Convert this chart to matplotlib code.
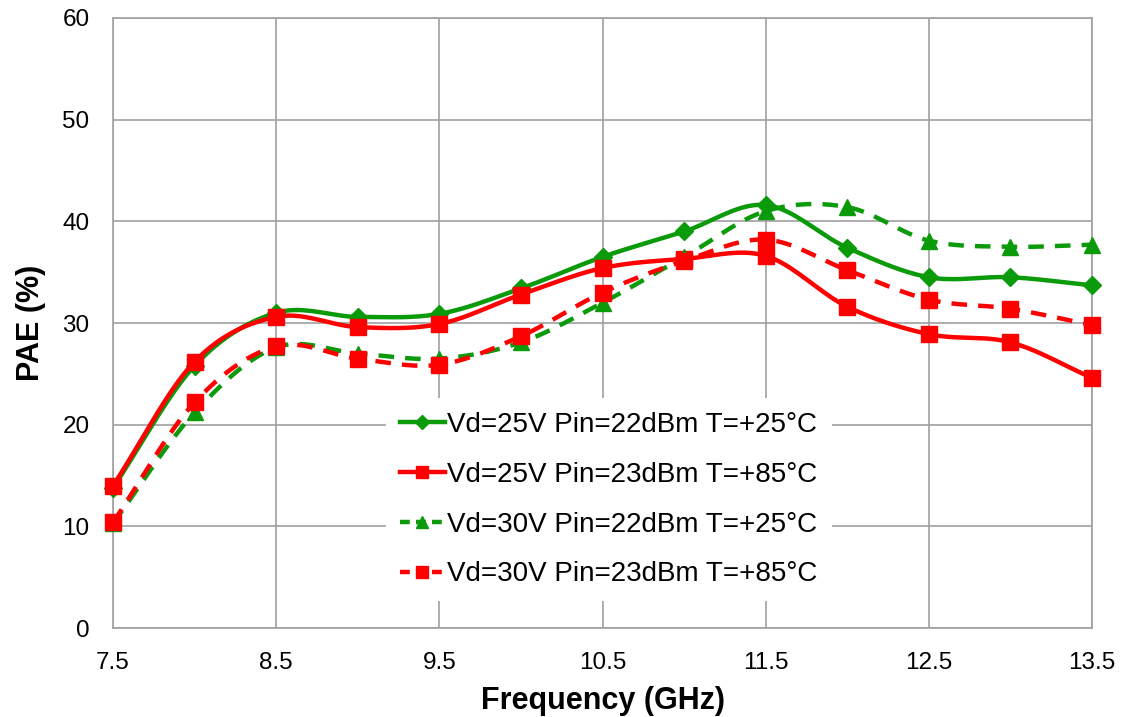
import numpy as np
import matplotlib
matplotlib.use("Agg")
import matplotlib.pyplot as plt

plt.rcParams["font.family"] = ["Liberation Sans", "DejaVu Sans"]

freq = [7.5, 8.0, 8.5, 9.0, 9.5, 10.0, 10.5, 11.0, 11.5, 12.0, 12.5, 13.0, 13.5]
pae_25v_25c = [13.8, 25.8, 31.0, 30.6, 30.9, 33.4, 36.5, 39.0, 41.6, 37.4, 34.5, 34.5, 33.7]
pae_25v_85c = [14.0, 26.2, 30.6, 29.6, 29.9, 32.8, 35.4, 36.3, 36.6, 31.6, 28.9, 28.1, 24.6]
pae_30v_25c = [10.3, 21.2, 27.6, 27.0, 26.5, 28.1, 32.0, 36.5, 41.0, 41.4, 38.1, 37.5, 37.7]
pae_30v_85c = [10.4, 22.2, 27.7, 26.5, 25.9, 28.7, 33.0, 36.1, 38.2, 35.2, 32.3, 31.4, 29.8]
labels = [
    "Vd=25V Pin=22dBm T=+25°C",
    "Vd=25V Pin=23dBm T=+85°C",
    "Vd=30V Pin=22dBm T=+25°C",
    "Vd=30V Pin=23dBm T=+85°C",
]


def smooth(x, y, n=20):
    # Catmull-Rom style curve through the points, like a spreadsheet "smoothed line"
    x = np.asarray(x, float)
    y = np.asarray(y, float)
    px = np.concatenate([[2 * x[0] - x[1]], x, [2 * x[-1] - x[-2]]])
    py = np.concatenate([[2 * y[0] - y[1]], y, [2 * y[-1] - y[-2]]])
    xs, ys = [], []
    t = np.linspace(0, 1, n, endpoint=False)
    for i in range(1, len(px) - 2):
        p0, p1, p2, p3 = (np.array([px[j], py[j]]) for j in range(i - 1, i + 3))
        c1 = p1 + (p2 - p0) / 6
        c2 = p2 - (p3 - p1) / 6
        for tt in t:
            b = ((1 - tt) ** 3) * p1 + 3 * (1 - tt) ** 2 * tt * c1 + 3 * (1 - tt) * tt ** 2 * c2 + tt ** 3 * p2
            xs.append(b[0])
            ys.append(b[1])
    xs.append(x[-1])
    ys.append(y[-1])
    return xs, ys


green = "#0a9a0a"
red = "#ff0000"
series = [
    (pae_25v_25c, green, "-", "D", 9),
    (pae_25v_85c, red, "-", "s", 11),
    (pae_30v_25c, green, (0, (3.5, 2.5)), "^", 11),
    (pae_30v_85c, red, (0, (3.5, 2.5)), "s", 11),
]

fig = plt.figure(figsize=(11.27, 7.17), dpi=100)
ax = fig.add_axes([0.1003, 0.124, 0.8687, 0.851])

handles = []
for (ys, color, ls, marker, ms), label in zip(series, labels):
    sx, sy = smooth(freq, ys)
    ax.plot(sx, sy, color=color, linestyle=ls, linewidth=3.2, zorder=3, clip_on=False)
    ax.plot(freq, ys, linestyle="none", marker=marker, markersize=ms, color=color,
            zorder=4, clip_on=False)
    hls = "-" if ls == "-" else (0, (2.2, 1.4))
    (h,) = ax.plot([], [], color=color, linestyle=hls, linewidth=3.2, marker=marker,
                   markersize=ms * 0.75, label=label)
    handles.append(h)

ax.set_xlim(7.5, 13.5)
ax.set_ylim(0, 60)
ax.set_xticks(np.arange(7.5, 13.6, 1.0))
ax.set_xticklabels(["7.5", "8.5", "9.5", "10.5", "11.5", "12.5", "13.5"])
ax.set_yticks(np.arange(0, 61, 10))
ax.grid(True, color="#a0a0a0", linewidth=1.2)
ax.set_axisbelow(True)
for s in ax.spines.values():
    s.set_color("#a0a0a0")
    s.set_linewidth(1.2)
ax.tick_params(axis="both", labelsize=17.5, length=0)
ax.tick_params(axis="y", pad=17)
ax.tick_params(axis="x", pad=17)
ax.set_xlabel("Frequency (GHz)", fontsize=22, fontweight="bold", labelpad=9)
ax.set_ylabel("PAE (%)", fontsize=22, fontweight="bold", labelpad=12)

leg = ax.legend(handles=handles, loc="upper left", bbox_to_anchor=(0.265, 0.40),
                fontsize=20, frameon=True, fancybox=False, edgecolor="none",
                facecolor="white", framealpha=1, labelspacing=0.86,
                handlelength=1.6, handletextpad=0.1, borderpad=0.5)
leg.set_zorder(5)

fig.savefig("out.png", dpi=100)
